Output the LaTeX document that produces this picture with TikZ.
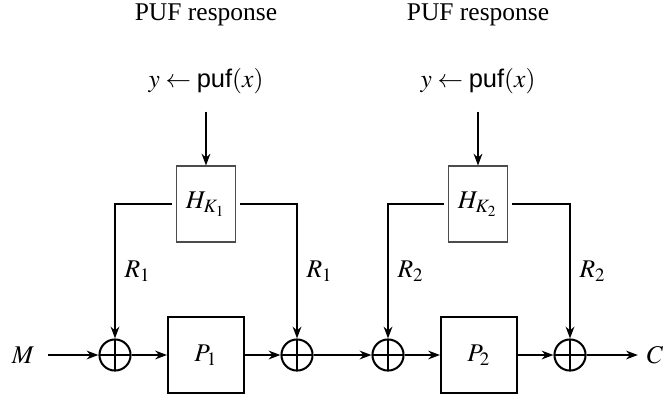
\documentclass[tikz,border=0pt]{standalone}
\usepackage{mathptmx}
\usepackage[no-math]{fontspec}
\setmainfont{Liberation Serif}
\setsansfont{Liberation Sans}
\usetikzlibrary{positioning,arrows.meta}

\begin{document}
\begin{tikzpicture}[
    x=0.3922pt, y=-0.3922pt,
    hbox/.style={draw=black!70, line width=0.4pt, inner sep=0pt,
                 minimum width=23.5pt, minimum height=29.8pt},
    pbox/.style={draw, thick, inner sep=0pt, minimum size=29.8pt},
    xorop/.style={draw, thick, circle, inner sep=0pt, minimum size=12.2pt,
                  path picture={\draw[thick]
                    (path picture bounding box.north) -- (path picture bounding box.south)
                    (path picture bounding box.west) -- (path picture bounding box.east);}},
    arr/.style={-{Stealth[length=4.6pt, width=3.4pt]}, thick}
  ]
    \useasboundingbox (0,0) rectangle (663,399);
    % PUF side
    \node (resp1) at (206,15) {PUF response};
    \node (resp2) at (478,15) {PUF response};
    \node (puf1) at (206,81) {$y \leftarrow \textsf{puf}(x)$};
    \node (puf2) at (478,81) {$y \leftarrow \textsf{puf}(x)$};
    \node[hbox] (H1) at (206,204) {$H_{K_1}$};
    \node[hbox] (H2) at (478,204) {$H_{K_2}$};
    % main chain
    \node (M) at (23,355) {$M$};
    \node[xorop] (x1) at (115,355) {};
    \node[pbox] (P1) at (206,355) {$P_1$};
    \node[xorop] (x2) at (297,355) {};
    \node[xorop] (x3) at (388,355) {};
    \node[pbox] (P2) at (479,355) {$P_2$};
    \node[xorop] (x4) at (570,355) {};
    \node (C) at (655,355) {$C$};
    \draw[arr, shorten <=3.5pt] (puf1) -- (H1);
    \draw[arr, shorten <=3.5pt] (puf2) -- (H2);
    \draw[arr, shorten <=1.5pt] (H1.west) -| node[right, pos=0.75] {$R_1$} (x1);
    \draw[arr, shorten <=1.5pt] (H1.east) -| node[right, pos=0.75] {$R_1$} (x2);
    \draw[arr, shorten <=1.5pt] (H2.west) -| node[right, pos=0.75] {$R_2$} (x3);
    \draw[arr, shorten <=1.5pt] (H2.east) -| node[right, pos=0.75] {$R_2$} (x4);
    \draw[arr, shorten <=2pt] (M) -- (x1);
    \draw[arr] (x1) -- (P1);
    \draw[arr] (P1) -- (x2);
    \draw[arr] (x2) -- (x3);
    \draw[arr] (x3) -- (P2);
    \draw[arr] (P2) -- (x4);
    \draw[arr] (x4) -- (C);
  \end{tikzpicture}
\end{document}
